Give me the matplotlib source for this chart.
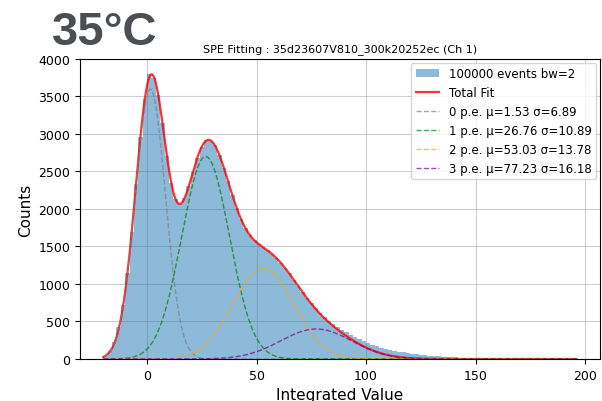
import numpy as np
import matplotlib.pyplot as plt

# histogram: bin width 2, bin centres -19 .. 187
bin_edges = np.arange(-20, 190, 2)
counts = [45, 110, 230, 420, 720, 1140, 1690, 2330, 2960, 3470,
          3800, 3740, 3520, 3140, 2710, 2350, 2130, 2070, 2140, 2300,
          2490, 2680, 2830, 2920, 2910, 2850, 2720, 2550, 2370, 2180,
          2010, 1860, 1740, 1650, 1580, 1530, 1490, 1450, 1400, 1350,
          1285, 1215, 1140, 1055, 975, 890, 810, 740, 675, 615,
          560, 510, 465, 425, 390, 355, 320, 290, 262, 236,
          212, 190, 170, 152, 136, 122, 109, 98, 88, 79,
          71, 64, 57, 51, 45, 40, 35, 31, 27, 24,
          21, 18, 16, 14, 12, 10, 9, 8, 7, 6,
          5, 4, 4, 3, 3, 2, 2, 2, 1, 1,
          1, 1, 1, 0]

# fitted gaussian components (p.e. peaks)
pe_labels = ['0 p.e.', '1 p.e.', '2 p.e.', '3 p.e.']
pe_mu = [1.53, 26.76, 53.03, 77.23]
pe_sigma = [6.89, 10.89, 13.78, 16.18]
pe_amp = [3600, 2700, 1210, 400]
pe_colors = ['gray', 'green', 'orange', 'purple']

n_events = 100000
bw = 2
title = 'SPE Fitting : 35d23607V810_300k20252ec (Ch 1)'


def gauss(x, a, mu, sigma):
    return a * np.exp(-(x - mu) ** 2 / (2 * sigma ** 2))


centers = bin_edges[:len(counts)] + bw / 2
edges = np.append(bin_edges[:len(counts)], bin_edges[len(counts) - 1] + bw)

fig = plt.figure(figsize=(6.02, 4.02), dpi=100)
ax = fig.add_axes([0.1329, 0.1045, 0.8638, 0.7463])

ax.hist(centers, bins=edges, weights=counts, color='tab:blue', alpha=0.5,
        histtype='stepfilled', linewidth=0,
        label=f'{n_events} events bw={bw}')

x_fit = np.linspace(-20, 196, 600)
total = np.zeros_like(x_fit)
parts = []
for a, mu, s in zip(pe_amp, pe_mu, pe_sigma):
    g = gauss(x_fit, a, mu, s)
    parts.append(g)
    total += g

ax.plot(x_fit, total, color='red', lw=1.6, alpha=0.8, label='Total Fit')
for g, lab, mu, s, c in zip(parts, pe_labels, pe_mu, pe_sigma, pe_colors):
    ax.plot(x_fit, g, '--', color=c, lw=1.0, alpha=0.7,
            label=f'{lab} \u03bc={mu:.2f} \u03c3={s:.2f}')

ax.set_xlim(-30.6, 206.8)
ax.set_ylim(0, 4000)
ax.set_xticks([0, 50, 100, 150, 200])
ax.set_yticks(np.arange(0, 4001, 500))
ax.tick_params(labelsize=9)
ax.grid(True, alpha=0.6)
ax.set_axisbelow(True)
ax.set_xlabel('Integrated Value', fontsize=11)
ax.set_ylabel('Counts', fontsize=11)
ax.set_title(title, fontsize=8)
ax.legend(loc='upper right', fontsize=8.5, borderaxespad=0.3)

fig.text(0.086, 0.888, '35\u00b0C', fontsize=34, fontweight='bold',
         family='Liberation Sans', color='#4b4f54', ha='left', va='baseline')

plt.savefig('out.png', dpi=100)
plt.close()
